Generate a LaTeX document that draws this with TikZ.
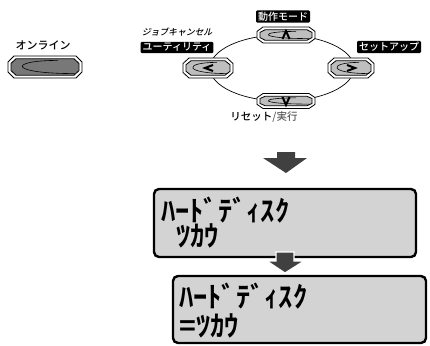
\documentclass[tikz,border=0pt]{standalone}
\usepackage{fontspec}
\setmainfont{Noto Sans CJK JP}
\newfontfamily\cjkit[FakeSlant=0.25]{Noto Sans CJK JP Medium}
\newfontfamily\cjkmed{Noto Sans CJK JP Medium}
\newfontfamily\lcd{Noto Sans CJK JP Bold}
\definecolor{lcdfill}{HTML}{D3D3D3}
\definecolor{arrowgray}{HTML}{404040}
\definecolor{btndark}{HTML}{787878}
\definecolor{btnlight}{HTML}{BEBEBE}
\tikzset{
  tag/.style={fill=black,text=white,inner xsep=2pt,inner ysep=1.5pt,rounded corners=1.2pt,font=\cjkmed\fontsize{10}{11}\selectfont},
  lbl/.style={inner sep=0pt,font=\cjkmed\fontsize{11}{12}\selectfont},
  lcdbox/.style={draw,line width=2.4pt,rounded corners=5pt,fill=lcdfill,inner sep=0pt},
  lcdtxt/.style={inner sep=0pt,anchor=base west,text height=21pt,text depth=0pt,font=\lcd\fontsize{28.5}{25}\selectfont},
  bigarrow/.style={fill=arrowgray},
  sym/.style={line width=2pt},
  btnline/.style={line width=0.8pt},
  btnarc/.style={line width=0.6pt}
}
\newcommand\mybtn[6]{%
\coordinate (#6) at (#1,#2);
\filldraw[btnline,fill=white,shift={(#1,#2)}] (-#3,-0.45*#4) -- (-#3+6,-#4) -- (#3-6,-#4) -- (#3,-0.45*#4) -- (#3,0.45*#4) -- (#3-6,#4) -- (-#3+6,#4) -- (-#3,0.45*#4) -- cycle;
\filldraw[btnline,fill=#5,shift={(#1,#2)}] (-#3+3,-0.33*#4) -- (-#3+8,-#4+2.8) -- (#3-8,-#4+2.8) -- (#3-3,-0.33*#4) -- (#3-3,0.33*#4) -- (#3-8,#4-2.8) -- (-#3+8,#4-2.8) -- (-#3+3,0.33*#4) -- cycle;
\draw[btnarc,shift={(#1,#2)}] (0.35*#3,-#4+4.4) .. controls (-#3,-#4+4.4) and (-#3,#4-4.4) .. (0.8*#3,#4-4.4);
}
\begin{document}
\begin{tikzpicture}[x=1pt,y=-1pt]
\useasboundingbox (0,0) rectangle (430,345);
% ellipse
\draw[line width=0.7pt] (282,68) ellipse [x radius=72, y radius=33];
% buttons
\mybtn{45}{67}{37}{11}{btndark}{bonline}
\mybtn{208}{68}{25}{10}{btnlight}{bleft}
\mybtn{286}{35}{29}{8}{btnlight}{btop}
\mybtn{351}{68}{23}{10}{btnlight}{bright}
\mybtn{286}{101}{29}{7.5}{btnlight}{bbottom}
% symbols
\draw[sym] (213,65) -- (205,68) -- (213,71);
\draw[sym] (347,65) -- (355,68) -- (347,71);
\draw[sym] (282.5,39) -- (286,31) -- (289.5,39);
\draw[sym] (282.5,97) -- (286,105) -- (289.5,97);
% labels
\node[lbl] (lonline) at (43,45) {オンライン};
\node[lbl,font=\cjkit\fontsize{8.8}{10}\selectfont] (ljob) at (177,32) {ジョブキャンセル};
\node[tag] (lutil) at (177,47.5) {ユーティリティ};
\node[tag] (lmode) at (283,16.5) {動作モード};
\node[tag] (lsetup) at (389,47) {セットアップ};
\node[lbl,font=\cjkmed\fontsize{10.5}{11}\selectfont] (lreset) at (264,117.5) {リセット\textcolor{black!65}{/実行}};
% arrow 1
\fill[bigarrow] (277,152) -- (295,152) -- (295,158) -- (307,158) -- (286,173) -- (263,158) -- (277,158) -- cycle;
% box 1
\node[lcdbox,minimum width=262pt,minimum height=68pt] (box1) at (285,223) {};
\node[lcdtxt] (t1a) at (161,221) {ﾊｰﾄﾞﾃﾞｨｽｸ};
\node[lcdtxt] (t1b) at (176,246) {ﾂｶｳ};
% arrow 2
\filldraw[bigarrow,draw=white,line width=1.2pt] (276,252) -- (294,252) -- (294,261) -- (304,261) -- (285,273) -- (267,261) -- (276,261) -- cycle;
% box 2
\node[lcdbox,minimum width=253pt,minimum height=67pt] (box2) at (299.5,309.5) {};
\node[lcdtxt] (t2a) at (179,307) {ﾊｰﾄﾞﾃﾞｨｽｸ};
\node[lcdtxt] (t2b) at (179,336) {=ﾂｶｳ};
\end{tikzpicture}
\end{document}
